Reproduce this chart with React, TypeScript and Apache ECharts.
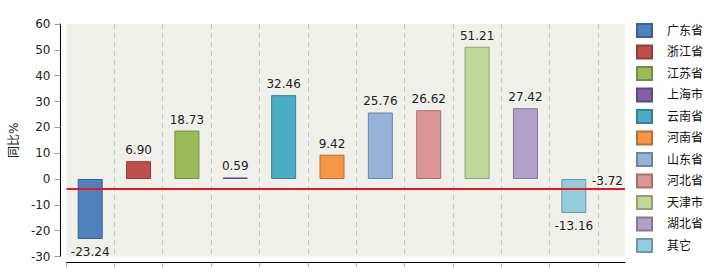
import React, { useEffect, useRef } from "react";
import * as echarts from "echarts";

const categories = ["广东省", "浙江省", "江苏省", "上海市", "云南省", "河南省", "山东省", "河北省", "天津市", "湖北省", "其它"];
const values = [-23.24, 6.9, 18.73, 0.59, 32.46, 9.42, 25.76, 26.62, 51.21, 27.42, -13.16];
const referenceValue = -3.72;
const colors = ["#4f81bd", "#c0504d", "#9bbb59", "#8064a2", "#4bacc6", "#f79646", "#95b3d7", "#da9694", "#c4d79b", "#b1a0c7", "#92cddc"];
const borderColors = ["#3b6190", "#943c3a", "#748d42", "#5f4a7a", "#378196", "#b96f33", "#6f86a1", "#a3706f", "#93a174", "#857895", "#6d9aa5"];
const yTicks = { min: -30, max: 60, interval: 10 };

const FONT = "'DejaVu Sans', 'Noto Sans CJK SC', sans-serif";

export default function App() {
  const ref = useRef<HTMLDivElement>(null);
  useEffect(() => {
    if (!ref.current) return;
    const chart = echarts.init(ref.current, null, { renderer: "svg" });
    const barSeries = categories.map((name, i) => ({
      name,
      type: "bar",
      xAxisIndex: 1,
      yAxisIndex: 1,
      barWidth: 25,
      barGap: "-100%",
      data: values.map((v, j) => (j === i ? v : null)),
      itemStyle: { color: colors[i], borderColor: borderColors[i], borderWidth: 1 },
      label: {
        show: true,
        position: values[i] >= 0 ? "top" : "bottom",
        distance: values[i] >= 0 ? 5 : 7,
        color: "#222",
        fontSize: 12,
        fontFamily: FONT,
        formatter: (p: any) => (p.value as number).toFixed(2),
      },
    }));
    chart.setOption({
      animation: false,
      backgroundColor: "#ffffff",
      grid: [
        { left: 66, right: 95, top: 24, bottom: 19.5, show: true, backgroundColor: "#f0f0ea", borderWidth: 0 },
        { left: 66, right: 122, top: 24, bottom: 19.5, show: false },
      ],
      legend: {
        orient: "vertical",
        left: 636,
        top: 23,
        height: 252,
        padding: 0,
        itemWidth: 15,
        itemHeight: 13,
        itemGap: 6.5,
        icon: "rect",
        data: categories,
        textStyle: { color: "#111", fontSize: 12, lineHeight: 13, fontFamily: FONT, padding: [0, 0, 0, 10] },
      },
      xAxis: [
        {
          type: "value",
          gridIndex: 0,
          min: 0,
          max: 1,
          offset: 6,
          axisLine: { show: true, onZero: false, lineStyle: { color: "#000", width: 1 } },
          axisTick: { show: false },
          axisLabel: { show: false },
          splitLine: { show: false },
        },
        {
          type: "category",
          gridIndex: 1,
          data: categories,
          offset: 6,
          axisLine: { show: false, onZero: false },
          axisTick: { show: true, interval: 0, length: 6, lineStyle: { color: "#aaa", type: "dashed" } },
          axisLabel: { show: false },
          splitLine: { show: true, showMinLine: false, interval: 0, lineStyle: { color: "#c4c4c4", type: [5, 4] } },
        },
      ],
      yAxis: [
        {
          type: "value",
          gridIndex: 0,
          min: yTicks.min,
          max: yTicks.max,
          interval: yTicks.interval,
          offset: 6,
          name: "同比%",
          nameLocation: "middle",
          nameRotate: 90,
          nameGap: 40,
          nameTextStyle: { color: "#222", fontSize: 12, fontFamily: FONT },
          axisLine: { show: true, onZero: false, lineStyle: { color: "#000", width: 1 } },
          axisTick: { show: true, length: 6, lineStyle: { color: "#999" } },
          axisLabel: { color: "#222", fontSize: 12, fontFamily: FONT, margin: 10 },
          splitLine: { show: false },
        },
        {
          type: "value",
          gridIndex: 1,
          min: yTicks.min,
          max: yTicks.max,
          interval: yTicks.interval,
          show: false,
          splitLine: { show: false },
        },
      ],
      series: [
        ...barSeries,
        {
          name: "ref",
          type: "line",
          xAxisIndex: 0,
          yAxisIndex: 0,
          data: [],
          markLine: {
            silent: true,
            symbol: "none",
            lineStyle: { color: "#e8191e", width: 2, type: "solid" },
            label: {
              show: true,
              position: "insideEndTop",
              distance: [2, 2],
              color: "#222",
              fontSize: 12,
              fontFamily: FONT,
              formatter: () => referenceValue.toFixed(2),
            },
            data: [{ yAxis: referenceValue }],
          },
        },
      ],
    });
    return () => chart.dispose();
  }, []);
  return <div ref={ref} style={{ position: "fixed", left: 0, top: 0, width: 720, height: 276 }} />;
}
